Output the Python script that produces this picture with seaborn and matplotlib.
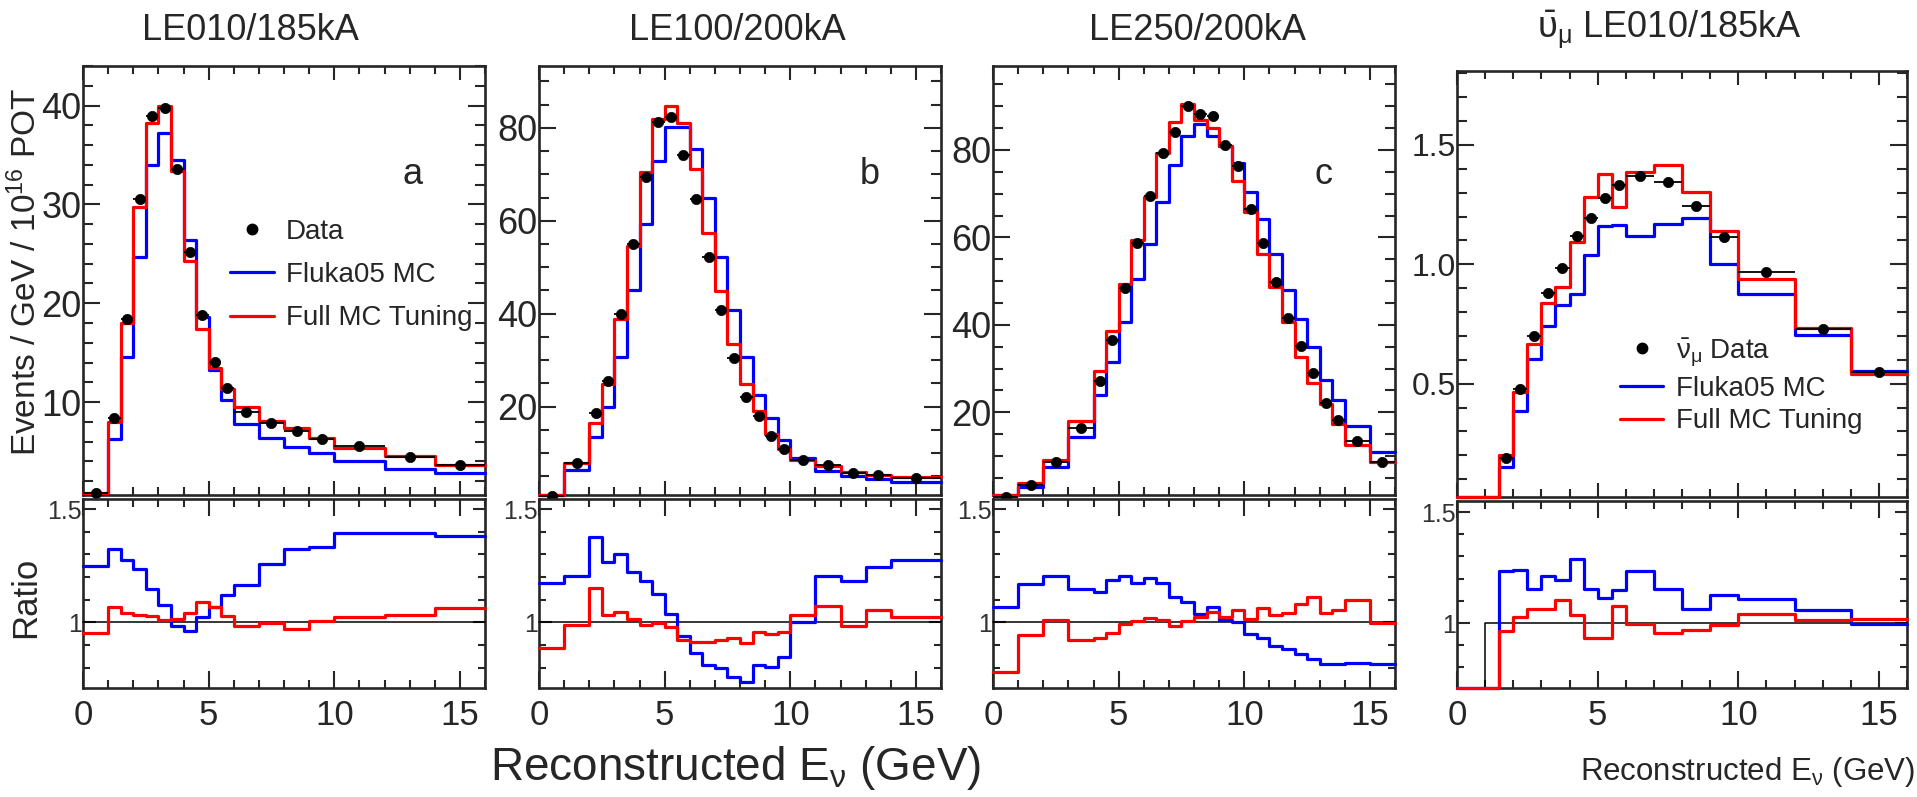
import numpy as np
import pandas as pd
import matplotlib
matplotlib.use("Agg")
import matplotlib.pyplot as plt
from matplotlib.lines import Line2D
from matplotlib.ticker import MultipleLocator, FuncFormatter
import seaborn as sns

# ---------------- data ----------------
# Panel a : LE010/185kA
a_edges = [0, 1, 1.5, 2, 2.5, 3, 3.5, 4, 4.5, 5, 5.5, 6, 7, 8, 9, 10, 12, 14, 16]
a_data = [0.8, 8.4, 18.4, 30.5, 38.9, 39.8, 33.6, 25.2, 18.8, 14.1, 11.4, 9.0, 7.9, 7.1, 6.3, 5.6, 4.4, 3.6]
a_tuned = [0.8, 8.0, 18.0, 29.7, 38.2, 40.0, 33.4, 24.3, 17.4, 13.4, 11.3, 9.5, 8.1, 7.4, 6.4, 5.4, 4.5, 3.6]
a_fluka = [0.7, 6.3, 14.6, 24.7, 34.0, 37.2, 34.5, 26.4, 18.6, 13.2, 10.2, 7.8, 6.4, 5.5, 4.8, 4.0, 3.2, 2.8]
a_ratio_fluka = [1.248, 1.322, 1.274, 1.237, 1.148, 1.077, 0.985, 0.963, 1.022, 1.070, 1.123, 1.166,
                 1.257, 1.322, 1.334, 1.393, 1.393, 1.383]
a_ratio_tuned = [0.955, 1.070, 1.042, 1.033, 1.027, 1.010, 1.015, 1.040, 1.089, 1.070, 1.027, 0.985,
                 0.996, 0.970, 1.004, 1.025, 1.034, 1.062]
a_ratio_ref = [1.0] * 18

# Panel b : LE100/200kA
b_edges = [0, 1, 2, 2.5, 3, 3.5, 4, 4.5, 5, 5.5, 6, 6.5, 7, 7.5, 8, 8.5, 9, 9.5, 10, 11, 12, 13, 14, 16]
b_data = [0.8, 7.8, 18.7, 25.5, 39.9, 55.0, 69.5, 81.3, 82.3, 74.2, 64.7, 52.2, 40.9, 30.4, 22.0,
          18.0, 13.6, 10.8, 8.6, 7.4, 5.7, 5.4, 4.7]
b_tuned = [0.9, 7.9, 16.4, 24.9, 38.8, 54.5, 70.6, 81.8, 84.8, 81.0, 71.2, 57.3, 44.8, 33.4, 24.8,
           19.0, 14.2, 11.0, 8.5, 7.2, 6.0, 5.2, 4.9]
b_fluka = [0.9, 6.3, 13.5, 20.0, 30.7, 45.1, 59.3, 72.8, 80.1, 80.1, 75.4, 64.9, 52.1, 40.8, 30.6,
           22.5, 17.5, 12.9, 9.0, 6.2, 5.1, 4.4, 3.8]
b_ratio_fluka = [1.172, 1.206, 1.375, 1.265, 1.304, 1.224, 1.184, 1.125, 1.037, 0.938, 0.865, 0.813,
                 0.797, 0.760, 0.735, 0.813, 0.804, 0.846, 1.000, 1.206, 1.181, 1.243, 1.276]
b_ratio_tuned = [0.887, 0.990, 1.151, 1.034, 1.047, 1.015, 0.990, 0.996, 0.978, 0.922, 0.915, 0.915,
                 0.922, 0.931, 0.907, 0.956, 0.949, 0.956, 1.032, 1.074, 0.985, 1.054, 1.022]
b_ratio_ref = [1.0] * 23

# Panel c : LE250/200kA
c_edges = [0, 1, 2, 3, 4, 4.5, 5, 5.5, 6, 6.5, 7, 7.5, 8, 8.5, 9, 9.5, 10, 10.5, 11, 11.5, 12,
           12.5, 13, 13.5, 14, 15, 16]
c_data = [0.6, 3.4, 8.7, 16.4, 27.2, 36.6, 48.5, 58.8, 69.5, 79.4, 84.2, 90.0, 88.2, 87.8, 81.2,
          76.4, 66.4, 58.8, 49.8, 41.6, 35.2, 29.0, 22.1, 18.3, 13.5, 8.7]
c_tuned = [0.8, 3.9, 9.0, 18.1, 29.5, 38.6, 49.4, 59.4, 69.2, 79.4, 86.3, 90.4, 86.9, 85.0, 80.8,
           72.8, 65.9, 56.2, 48.7, 40.6, 32.7, 26.6, 21.9, 17.4, 12.5, 8.7]
c_fluka = [0.5, 2.9, 7.5, 14.4, 23.9, 31.4, 40.6, 50.6, 58.6, 68.2, 76.6, 83.2, 85.9, 83.1, 80.8,
           77.0, 70.3, 64.2, 56.2, 47.9, 41.4, 34.9, 27.4, 22.8, 16.9, 11.0]
c_ratio_fluka = [1.070, 1.168, 1.203, 1.148, 1.134, 1.188, 1.203, 1.174, 1.196, 1.174, 1.111, 1.089,
                 1.037, 1.070, 1.010, 1.000, 0.948, 0.929, 0.896, 0.881, 0.859, 0.837, 0.818, 0.818,
                 0.822, 0.818]
c_ratio_tuned = [0.782, 0.944, 1.012, 0.921, 0.930, 0.955, 0.993, 1.007, 1.019, 1.010, 0.985, 1.007,
                 1.025, 1.047, 1.022, 1.055, 1.015, 1.062, 1.033, 1.040, 1.082, 1.111, 1.040, 1.055,
                 1.099, 0.996]
c_ratio_ref = [1.0] * 26

# Panel d : anti-numu LE010/185kA
d_edges = [0, 1, 1.5, 2, 2.5, 3, 3.5, 4, 4.5, 5, 5.5, 6, 7, 8, 9, 10, 12, 14, 16]
d_data = [np.nan, np.nan, 0.187, 0.479, 0.698, 0.879, 0.985, 1.120, 1.194, 1.277, 1.331, 1.370,
          1.343, 1.245, 1.116, 0.967, 0.730, 0.549]
d_tuned = [0.0, 0.0, 0.201, 0.465, 0.664, 0.838, 0.907, 1.092, 1.283, 1.380, 1.241, 1.387, 1.415,
           1.301, 1.141, 0.939, 0.734, 0.542]
d_fluka = [0.0, 0.0, 0.152, 0.386, 0.604, 0.740, 0.831, 0.876, 1.040, 1.159, 1.164, 1.117, 1.171,
           1.194, 1.001, 0.876, 0.702, 0.553]
d_ratio_fluka = [0.0, 0.0, 1.234, 1.240, 1.152, 1.210, 1.195, 1.287, 1.155, 1.113, 1.147, 1.233,
                 1.155, 1.062, 1.125, 1.107, 1.057, 0.994]
d_ratio_tuned = [0.0, 0.0, 0.962, 1.027, 1.062, 1.062, 1.105, 1.035, 0.934, 0.934, 1.075, 0.994,
                 0.955, 0.967, 0.992, 1.039, 1.012, 1.017]
d_ratio_ref = [0.0] + [1.0] * 17

titles = ["LE010/185kA", "LE100/200kA", "LE250/200kA", r"$\bar{\upsilon}_{\mu}$ LE010/185kA"]
letters = ["a", "b", "c", ""]
legend_labels_a = ["Data", "Fluka05 MC", "Full MC Tuning"]
legend_labels_d = [r"$\bar{\nu}_{\mu}$ Data", "Fluka05 MC", "Full MC Tuning"]
ylabel_top = r"Events / GeV / 10$^{16}$ POT"
ylabel_ratio = "Ratio"
xlabel = r"Reconstructed E$_{\nu}$ (GeV)"

# ---------------- style ----------------
sns.set_theme(style="ticks")
plt.rcParams["font.family"] = ["Liberation Sans", "DejaVu Sans"]
plt.rcParams["mathtext.fontset"] = "custom"
plt.rcParams["mathtext.rm"] = "Liberation Sans"
plt.rcParams["mathtext.it"] = "Liberation Sans"
plt.rcParams["mathtext.bf"] = "Liberation Sans:bold"
plt.rcParams["axes.linewidth"] = 1.9

W, H = 1917, 797
fig = plt.figure(figsize=(W / 100, H / 100), dpi=100)
fig.patch.set_facecolor("white")

BLUE = "#0000ff"
RED = "#ff0000"
LW = 2.3


def add_ax(x0, x1, ytop, ybot):
    return fig.add_axes([x0 / W, 1 - ybot / H, (x1 - x0) / W, (ybot - ytop) / H])


def step(ax, edges, vals, color, lw, ylim):
    y = np.clip(np.append(np.asarray(vals, float), vals[-1]), ylim[0], ylim[1])
    df = pd.DataFrame({"x": edges, "y": y})
    sns.lineplot(data=df, x="x", y="y", ax=ax, color=color, lw=lw, drawstyle="steps-post",
                 estimator=None, sort=False, legend=False, clip_on=False, zorder=3)


def data_points(ax, edges, vals):
    e = np.asarray(edges, float)
    centers = 0.5 * (e[1:] + e[:-1])
    halfw = 0.5 * (e[1:] - e[:-1])
    v = np.asarray(vals, float)
    ax.errorbar(centers, v, xerr=halfw, fmt="none", ecolor="black", elinewidth=1.3, zorder=4,
                clip_on=False)
    df = pd.DataFrame({"x": centers, "y": v}).dropna()
    sns.scatterplot(data=df, x="x", y="y", ax=ax, color="black", marker="o", s=55,
                    edgecolor="black", linewidth=0.5, zorder=5, legend=False, clip_on=False)


panels = [
    dict(edges=a_edges, data=a_data, tuned=a_tuned, fluka=a_fluka, rf=a_ratio_fluka,
         rt=a_ratio_tuned, rr=a_ratio_ref, x0=83, x1=485, top=66, mid=495, rtop=499, bot=688,
         ylim=(0.6, 44), major=10, minor=2, fmt="%d", rylim=(0.71, 1.545)),
    dict(edges=b_edges, data=b_data, tuned=b_tuned, fluka=b_fluka, rf=b_ratio_fluka,
         rt=b_ratio_tuned, rr=b_ratio_ref, x0=539, x1=941, top=66, mid=495, rtop=499, bot=688,
         ylim=(1.0, 93.3), major=20, minor=5, fmt="%d", rylim=(0.71, 1.545)),
    dict(edges=c_edges, data=c_data, tuned=c_tuned, fluka=c_fluka, rf=c_ratio_fluka,
         rt=c_ratio_tuned, rr=c_ratio_ref, x0=993, x1=1395, top=66, mid=495, rtop=499, bot=688,
         ylim=(1.1, 99.2), major=20, minor=5, fmt="%d", rylim=(0.71, 1.545)),
    dict(edges=d_edges, data=d_data, tuned=d_tuned, fluka=d_fluka, rf=d_ratio_fluka,
         rt=d_ratio_tuned, rr=d_ratio_ref, x0=1457, x1=1907, top=71, mid=497, rtop=501, bot=688,
         ylim=(0.025, 1.81), major=0.5, minor=0.1, fmt="%.1f", rylim=(0.707, 1.55)),
]

for i, p in enumerate(panels):
    ax = add_ax(p["x0"], p["x1"], p["top"], p["mid"])
    rax = add_ax(p["x0"], p["x1"], p["rtop"], p["bot"])

    # top panel
    step(ax, p["edges"], p["fluka"], BLUE, LW, p["ylim"])
    step(ax, p["edges"], p["tuned"], RED, LW, p["ylim"])
    data_points(ax, p["edges"], p["data"])
    ax.set_xlim(0, 16)
    ax.set_ylim(*p["ylim"])
    ax.xaxis.set_major_locator(MultipleLocator(5))
    ax.xaxis.set_minor_locator(MultipleLocator(1))
    ax.yaxis.set_major_locator(MultipleLocator(p["major"]))
    ax.yaxis.set_minor_locator(MultipleLocator(p["minor"]))
    fmt = p["fmt"]
    ax.yaxis.set_major_formatter(FuncFormatter(lambda v, pos, f=fmt: f % v))
    ax.tick_params(axis="x", which="both", direction="in", top=True, bottom=True,
                   labelbottom=False, width=1.5)
    ax.tick_params(axis="x", which="major", length=10)
    ax.tick_params(axis="x", which="minor", length=5.5)
    ax.tick_params(axis="y", which="both", direction="in", left=True, right=True, width=1.5,
                   labelsize=26 if i < 3 else 23, pad=1)
    ax.tick_params(axis="y", which="major", length=12)
    ax.tick_params(axis="y", which="minor", length=7)
    ax.set_xlabel("")
    ax.set_ylabel("")

    # ratio panel
    step(rax, p["edges"], p["rr"], "black", 1.1, p["rylim"])
    step(rax, p["edges"], p["rf"], BLUE, LW, p["rylim"])
    step(rax, p["edges"], p["rt"], RED, LW, p["rylim"])
    rax.set_xlim(0, 16)
    rax.set_ylim(*p["rylim"])
    rax.xaxis.set_major_locator(MultipleLocator(5))
    rax.xaxis.set_minor_locator(MultipleLocator(1))
    rax.yaxis.set_major_locator(MultipleLocator(0.5))
    rax.yaxis.set_minor_locator(MultipleLocator(0.1))
    rax.yaxis.set_major_formatter(FuncFormatter(lambda v, pos: "%g" % v))
    rax.tick_params(axis="x", which="both", direction="in", top=True, bottom=True, width=1.5,
                    labelsize=25, pad=8)
    rax.tick_params(axis="x", which="major", length=12)
    rax.tick_params(axis="x", which="minor", length=6)
    rax.tick_params(axis="y", which="both", direction="in", left=True, right=True, width=1.5,
                    labelsize=18, labelcolor="#333333", pad=1)
    rax.tick_params(axis="y", which="major", length=9)
    rax.tick_params(axis="y", which="minor", length=5)
    rax.set_xlabel("")
    rax.set_ylabel("")

    p["ax"] = ax
    p["rax"] = rax

# titles
title_x = [250, 737, 1198, 1669]
for tx, t in zip(title_x, titles):
    fig.text(tx / W, 1 - 30 / H, t, ha="center", va="center", fontsize=26)

# panel letters
for (lx, l) in zip([413, 870, 1323], letters[:3]):
    fig.text(lx / W, 1 - 175 / H, l, ha="center", va="center", fontsize=26)

# axis labels
fig.text(26 / W, 1 - 272 / H, ylabel_top, rotation=90, ha="center", va="center", fontsize=24)
fig.text(26 / W, 1 - 597 / H, ylabel_ratio, rotation=90, ha="center", va="center", fontsize=25)
fig.text(736 / W, 1 - 768 / H, xlabel, ha="center", va="center", fontsize=33)
fig.text(1915 / W, 1 - 772 / H, xlabel, ha="right", va="center", fontsize=22.5)

# legends
def handles():
    return [Line2D([], [], marker="o", ls="none", color="black", ms=7.5),
            Line2D([], [], color=BLUE, lw=LW),
            Line2D([], [], color=RED, lw=LW)]


pa = panels[0]
la = pa["ax"].legend(handles(), legend_labels_a, loc="upper left",
                     bbox_to_anchor=(230 / W, 1 - 219 / H), bbox_transform=fig.transFigure,
                     frameon=False, fontsize=20, handlelength=1.6, handletextpad=0.4,
                     labelspacing=0.62, borderpad=0, borderaxespad=0)

pd_ = panels[3]
ld = pd_["ax"].legend(handles(), legend_labels_d, loc="upper left",
                      bbox_to_anchor=(1620 / W, 1 - 336 / H), bbox_transform=fig.transFigure,
                      frameon=False, fontsize=20, handlelength=1.55, handletextpad=0.45,
                      labelspacing=0.25, borderpad=0, borderaxespad=0)

fig.savefig("out.png", dpi=100, facecolor="white")
